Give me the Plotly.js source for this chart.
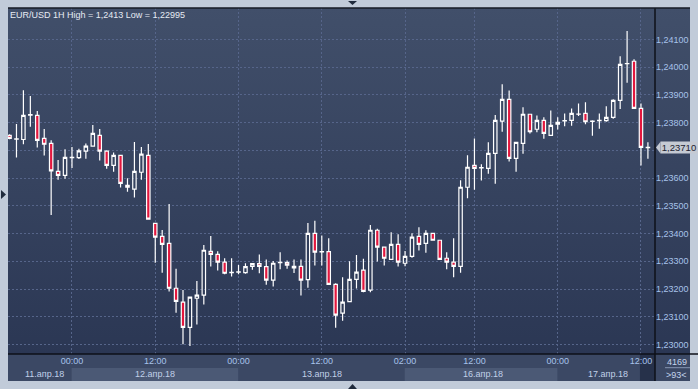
<!DOCTYPE html>
<html>
<head>
<meta charset="utf-8">
<script src="https://cdn.plot.ly/plotly-3.0.1.min.js"></script>
<style>
  html, body { margin: 0; padding: 0; background: #c1cbd9; }
  #wrap { position: relative; width: 698px; height: 389px; overflow: hidden; }
  #bg { position: absolute; left: 8px; top: 8px; width: 682px; height: 346px;
        background: linear-gradient(to bottom, #414f6a 0%, #2b3754 100%); }
  #chart { position: absolute; left: 0; top: 0; width: 698px; height: 389px; }
</style>
</head>
<body>
<div id="wrap"><div id="bg"></div><div id="chart"></div></div>
<script>
// EUR/USD 1H candles (93 bars)
const open = [1.23754,1.23740,1.23739,1.23827,1.23826,1.23743,1.23725,1.23624,1.23610,1.23674,
1.23674,1.23697,1.23715,1.23754,1.23697,1.23646,1.23682,1.23574,1.23560,1.23621,
1.23682,1.23437,1.23390,1.23365,1.23203,1.23153,1.23062,1.23167,1.23178,1.23336,
1.23325,1.23297,1.23259,1.23261,1.23259,1.23282,1.23292,1.23281,1.23232,1.23295,
1.23295,1.23282,1.23282,1.23234,1.23401,1.23335,1.23335,1.23217,1.23113,1.23155,
1.23235,1.23268,1.23196,1.23412,1.23351,1.23307,1.23361,1.23293,1.23318,1.23390,
1.23365,1.23401,1.23376,1.23311,1.23297,1.23282,1.23567,1.23646,1.23638,1.23635,
1.23689,1.23805,1.23884,1.23671,1.23725,1.23830,1.23776,1.23808,1.23754,1.23794,
1.23807,1.23808,1.23831,1.23833,1.23804,1.23808,1.23807,1.23819,1.23880,1.24012,
1.24021,1.23851,1.23711];
const high = [1.23758,1.23795,1.23917,1.23896,1.23842,1.23777,1.23736,1.23665,1.23704,1.23712,
1.23706,1.23725,1.23791,1.23777,1.23700,1.23692,1.23683,1.23599,1.23730,1.23712,
1.23723,1.23438,1.23413,1.23507,1.23273,1.23197,1.23172,1.23229,1.23359,1.23391,
1.23336,1.23311,1.23311,1.23287,1.23293,1.23293,1.23325,1.23307,1.23301,1.23333,
1.23303,1.23307,1.23307,1.23438,1.23446,1.23393,1.23383,1.23221,1.23243,1.23300,
1.23323,1.23309,1.23431,1.23417,1.23352,1.23405,1.23398,1.23337,1.23401,1.23423,
1.23412,1.23402,1.23377,1.23333,1.23383,1.23592,1.23682,1.23743,1.23650,1.23729,
1.23827,1.23938,1.23916,1.23730,1.23855,1.23831,1.23826,1.23819,1.23844,1.23819,
1.23833,1.23851,1.23869,1.23873,1.23808,1.23833,1.23859,1.23884,1.24039,1.24130,
1.24028,1.23869,1.23729];
const low = [1.23740,1.23674,1.23722,1.23785,1.23710,1.23681,1.23467,1.23594,1.23598,1.23636,
1.23669,1.23670,1.23714,1.23663,1.23634,1.23623,1.23566,1.23551,1.23530,1.23594,
1.23451,1.23295,1.23259,1.23191,1.23115,1.23001,1.22995,1.23072,1.23144,1.23281,
1.23267,1.23253,1.23245,1.23253,1.23255,1.23270,1.23257,1.23216,1.23209,1.23271,
1.23273,1.23258,1.23177,1.23205,1.23285,1.23285,1.23216,1.23061,1.23086,1.23153,
1.23202,1.23189,1.23189,1.23299,1.23285,1.23306,1.23281,1.23282,1.23313,1.23339,
1.23331,1.23375,1.23306,1.23271,1.23243,1.23259,1.23527,1.23558,1.23591,1.23616,
1.23580,1.23767,1.23660,1.23623,1.23688,1.23761,1.23765,1.23742,1.23753,1.23775,
1.23787,1.23789,1.23824,1.23794,1.23753,1.23778,1.23803,1.23814,1.23849,1.23944,
1.23850,1.23645,1.23670];
const close = [1.23743,1.23741,1.23826,1.23829,1.23736,1.23722,1.23626,1.23610,1.23675,1.23675,
1.23698,1.23715,1.23761,1.23697,1.23646,1.23682,1.23581,1.23567,1.23624,1.23686,
1.23452,1.23387,1.23361,1.23203,1.23156,1.23062,1.23171,1.23178,1.23340,1.23325,
1.23297,1.23257,1.23260,1.23262,1.23281,1.23292,1.23282,1.23232,1.23293,1.23296,
1.23286,1.23276,1.23232,1.23401,1.23333,1.23334,1.23217,1.23106,1.23153,1.23235,
1.23261,1.23192,1.23412,1.23351,1.23311,1.23361,1.23297,1.23318,1.23387,1.23361,
1.23401,1.23376,1.23307,1.23297,1.23282,1.23567,1.23639,1.23635,1.23637,1.23689,
1.23808,1.23884,1.23671,1.23729,1.23830,1.23767,1.23808,1.23761,1.23790,1.23801,
1.23806,1.23833,1.23830,1.23803,1.23805,1.23807,1.23819,1.23880,1.24010,1.24013,
1.23851,1.23711,1.23710];

const timeTickPos = [9, 21, 33, 45, 57, 67, 79, 91];
const timeTickText = ["00:00","12:00","00:00","12:00","02:00","12:00","00:00","12:00"];
const dateLabelPos = [5, 21, 45, 68.2, 86.2];
const dateLabels = ["11.апр.18","12.апр.18","13.апр.18","16.апр.18","17.апр.18"];
const dayBounds = [-0.22, 8.95, 32.95, 56.95, 78.95, 93.02];
const priceTicks = [1.230,1.231,1.232,1.233,1.234,1.235,1.236,1.237,1.238,1.239,1.240,1.241];
// the 1,23700 label is hidden behind the last-price marker
const priceTickText = ["1,23000","1,23100","1,23200","1,23300","1,23400","1,23500","1,23600","","1,23800","1,23900","1,24000","1,24100"];
const lastPrice = 1.2371;
const lastPriceText = "1,23710";
const titleText = "EUR/USD 1H High = 1,2413 Low = 1,22995";
const barCount = "4169";
const visibleCount = ">93<";

const xs = open.map((_, i) => i);
const FONT = "Liberation Sans, Arial, sans-serif";
const gridColor = "#56658a";

const trace = {
  type: "candlestick",
  x: xs, open: open, high: high, low: low, close: close,
  increasing: { line: { color: "#ffffff", width: 1.2 }, fillcolor: "rgba(0,0,0,0)" },
  decreasing: { line: { color: "#ffffff", width: 1.2 }, fillcolor: "#e3173e" },
  whiskerwidth: 0,
  hoverinfo: "skip",
  showlegend: false
};

const shapes = [];
shapes.push({type:"rect", xref:"paper", yref:"paper", x0:0, x1:1.0541, y0:-0.078, y1:0, fillcolor:"#3b4864", line:{width:0}, layer:"below"});
for (let d = 0; d < dayBounds.length - 1; d++) {
  if (d % 2 === 1) {
    shapes.push({type:"rect", xref:"x", yref:"paper", x0:dayBounds[d], x1:dayBounds[d+1], y0:-0.078, y1:-0.0405, fillcolor:"#4b5975", line:{width:0}, layer:"below"});
  }
}
shapes.push({type:"rect", xref:"x", yref:"paper", x0:90.85, x1:93.02, y0:-0.078, y1:0, fillcolor:"#26314a", line:{width:0}, layer:"below"});
shapes.push({type:"line", xref:"paper", yref:"paper", x0:1, x1:1, y0:-0.078, y1:1, line:{color:"#0e1118", width:1.5}});
shapes.push({type:"line", xref:"paper", yref:"paper", x0:0, x1:1.0665, y0:0, y1:0, line:{color:"#0e1118", width:1.5}});
shapes.push({type:"line", xref:"paper", yref:"paper", x0:0, x1:1.0541, y0:1, y1:1, line:{color:"#151a25", width:1.5}});
shapes.push({type:"line", xref:"paper", yref:"paper", x0:1.0155, x1:1.0541, y0:-0.0396, y1:-0.0396, line:{color:"#8596b2", width:1}});
shapes.push({type:"path", xref:"paper", yref:"y", path:"M 1.0015,1.2371 L 1.0085,1.23731 L 1.0085,1.23689 Z", fillcolor:"#c5cad3", line:{width:0}});
shapes.push({type:"path", xref:"paper", yref:"paper", path:"M 0.5255,1.0202 L 0.5394,1.0202 L 0.5325,1.0087 Z", fillcolor:"#1f2a3c", line:{width:0}});
shapes.push({type:"path", xref:"paper", yref:"paper", path:"M 0.5255,-0.1012 L 0.5394,-0.1012 L 0.5325,-0.0867 Z", fillcolor:"#1f2a3c", line:{width:0}});
shapes.push({type:"path", xref:"paper", yref:"paper", path:"M -0.0108,0.474 L -0.0031,0.461 L -0.0108,0.448 Z", fillcolor:"#1f2a3c", line:{width:0}});

const annotations = dateLabels.map((t, i) => ({
  xref:"x", yref:"paper", x:dateLabelPos[i], y:-0.0592, text:t, showarrow:false,
  xanchor:"center", yanchor:"middle", font:{family:FONT, size:9, color:"#c0d0e8"}
}));
annotations.push({xref:"paper", yref:"paper", x:1.034, y:-0.0217, text:barCount, showarrow:false, xanchor:"center", yanchor:"middle", font:{family:FONT, size:9, color:"#c4d4ec"}});
annotations.push({xref:"paper", yref:"paper", x:1.033, y:-0.0607, text:visibleCount, showarrow:false, xanchor:"center", yanchor:"middle", font:{family:FONT, size:9, color:"#c4d4ec"}});
annotations.push({xref:"paper", yref:"y", x:1.0085, y:lastPrice, text:lastPriceText, showarrow:false, xanchor:"left", yanchor:"middle",
  width:36, height:11, align:"center", bgcolor:"#c5cad3", borderpad:0, font:{family:FONT, size:9.5, color:"#1c2230"}});

const layout = {
  width: 698, height: 389,
  margin: {l:8, r:43, t:8, b:35, pad:0},
  paper_bgcolor: "rgba(0,0,0,0)",
  plot_bgcolor: "rgba(0,0,0,0)",
  font: {family: FONT, size: 9},
  title: {text: titleText, font:{family:FONT, size:9, color:"#e6ebf3"}, xref:"container", yref:"container", x:10/698, xanchor:"left", y:1-15/389, yanchor:"middle"},
  xaxis: {
    range: [-0.22, 93.02], type:"linear",
    tickvals: timeTickPos, ticktext: timeTickText,
    showgrid: true, gridcolor: gridColor, griddash: "2px,2px", gridwidth: 1,
    zeroline: false, showline: false, ticks: "",
    tickfont: {family:FONT, size:9, color:"#a7c3ea"},
    rangeslider: {visible:false}, fixedrange: true
  },
  yaxis: {
    side: "right", range: [1.22966, 1.24213],
    tickvals: priceTicks, ticktext: priceTickText,
    showgrid: true, gridcolor: gridColor, griddash: "2px,2px", gridwidth: 1,
    zeroline: false, showline: false, ticks: "",
    tickfont: {family:FONT, size:9, color:"#a7c3ea"}, fixedrange: true
  },
  shapes: shapes,
  annotations: annotations,
  hovermode: false
};

Plotly.newPlot("chart", [trace], layout, {staticPlot:true, displayModeBar:false});
</script>
</body>
</html>
